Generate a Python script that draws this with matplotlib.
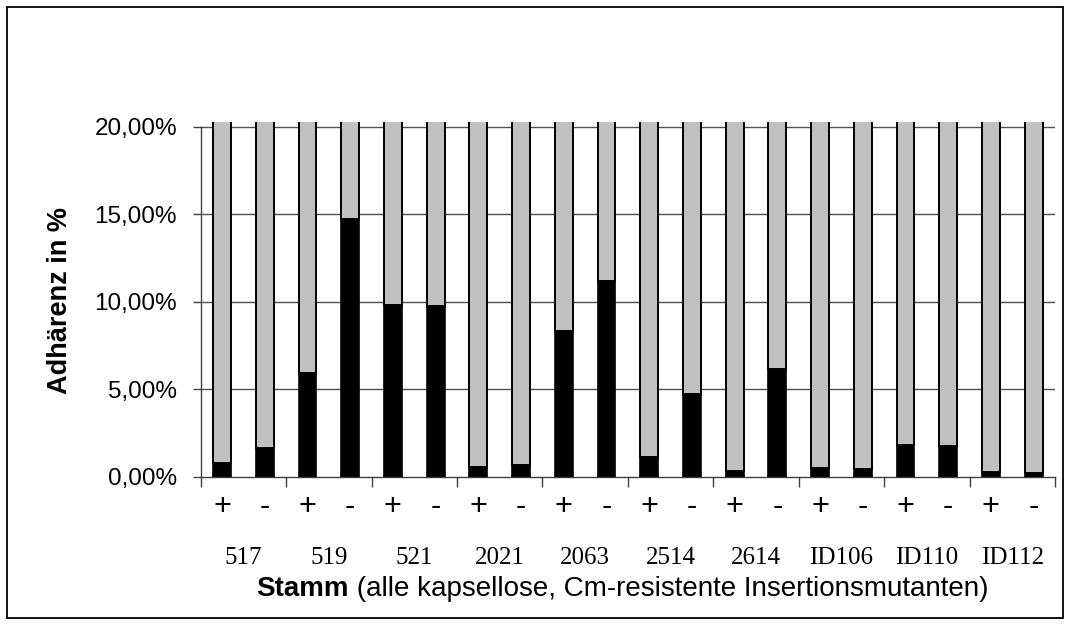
import matplotlib
matplotlib.use("Agg")
import matplotlib.pyplot as plt
from matplotlib.patches import Rectangle
from matplotlib.transforms import blended_transform_factory
from matplotlib.ticker import FuncFormatter, FixedLocator

# Strains, each tested with (+) and without (-) treatment
strains = ["517", "519", "521", "2021", "2063", "2514", "2614", "ID106", "ID110", "ID112"]
signs = ["+", "-"]

# Adhesion in percent (black part), remainder up to 100 % shown in grey
adh_plus = [0.77, 5.95, 9.83, 0.54, 8.30, 1.11, 0.33, 0.52, 1.82, 0.29]
adh_minus = [1.63, 14.71, 9.73, 0.65, 11.20, 4.70, 6.17, 0.44, 1.78, 0.20]

y_ticks = [0.0, 5.0, 10.0, 15.0, 20.0]

# interleave into one bar per strain/sign
values = []
labels = []
for p, m in zip(adh_plus, adh_minus):
    values += [p / 100.0, m / 100.0]
    labels += signs
rest = [1.0 - v for v in values]
xpos = list(range(len(values)))

W, H = 1069, 624
fig = plt.figure(figsize=(W / 100, H / 100), dpi=100)
plt.rcParams["font.family"] = ["Liberation Sans", "DejaVu Sans"]

ax = fig.add_axes([200.7 / W, 1 - 476.7 / H, (1055 - 200.7) / W, (476.7 - 121.7) / H])
ax.set_xlim(-0.5, len(values) - 0.5)
ax.set_ylim(0, 0.20286)

# gridlines
for t in y_ticks[1:]:
    ax.axhline(t / 100.0, color="#505050", lw=1.0, zorder=1)

bw = 0.42
ax.bar(xpos, values, width=bw, color="black", edgecolor="black", lw=1.2, zorder=3)
ax.bar(xpos, rest, bottom=values, width=bw, color="#c0c0c0", edgecolor="black",
       lw=1.4, zorder=3)

for s in ["top", "right"]:
    ax.spines[s].set_visible(False)
ax.spines["left"].set_bounds(0, 0.20)
ax.spines["left"].set_color("#404040")
ax.spines["bottom"].set_color("#404040")
ax.spines["left"].set_linewidth(1.0)
ax.spines["bottom"].set_linewidth(1.0)

ax.yaxis.set_major_locator(FixedLocator([t / 100.0 for t in y_ticks]))
ax.yaxis.set_major_formatter(FuncFormatter(lambda v, _: f"{v * 100:.2f}".replace(".", ",") + "%"))
ax.tick_params(axis="y", length=6, width=1.0, color="#404040", labelsize=17.5, pad=11)

# category boundaries every two bars
ax.set_xticks([i - 0.5 for i in range(0, len(values) + 1, 2)])
ax.set_xticklabels([])
ax.tick_params(axis="x", length=7, width=1.0, color="#404040")

tr = blended_transform_factory(ax.transData, fig.transFigure)
for x, lab in zip(xpos, labels):
    ax.text(x, 1 - 506.7 / H, lab, transform=tr, ha="center", va="center",
            fontsize=22, clip_on=False)
for i, name in enumerate(strains):
    ax.text(2 * i + 0.5, 1 - 558 / H, name, transform=tr, ha="center", va="center",
            fontsize=18, family="Liberation Serif", clip_on=False)

fig.text(60 / W, 1 - 300 / H, "Adhärenz in %", rotation=90, ha="center", va="center",
         fontsize=19.5, fontweight="bold")

# axis title: bold strain word followed by regular description
fig.canvas.draw()
r = fig.canvas.get_renderer()
ty = 1 - 589 / H
t1 = fig.text(0, ty, "Stamm", fontsize=20, fontweight="bold", va="center")
t2 = fig.text(0, ty, " (alle kapsellose, Cm-resistente Insertionsmutanten)", fontsize=20,
              va="center")
w1 = t1.get_window_extent(r).width
w2 = t2.get_window_extent(r).width
cx = 622.5
x0 = cx - (w1 + w2) / 2
t1.set_x(x0 / W)
t2.set_x((x0 + w1) / W)

fig.patches.append(Rectangle((7 / W, 1 - 618 / H), (1063 - 7) / W, (618 - 7) / H,
                             transform=fig.transFigure, fill=False, edgecolor="black",
                             lw=1.3))

fig.savefig("out.png", dpi=100, facecolor="white")
